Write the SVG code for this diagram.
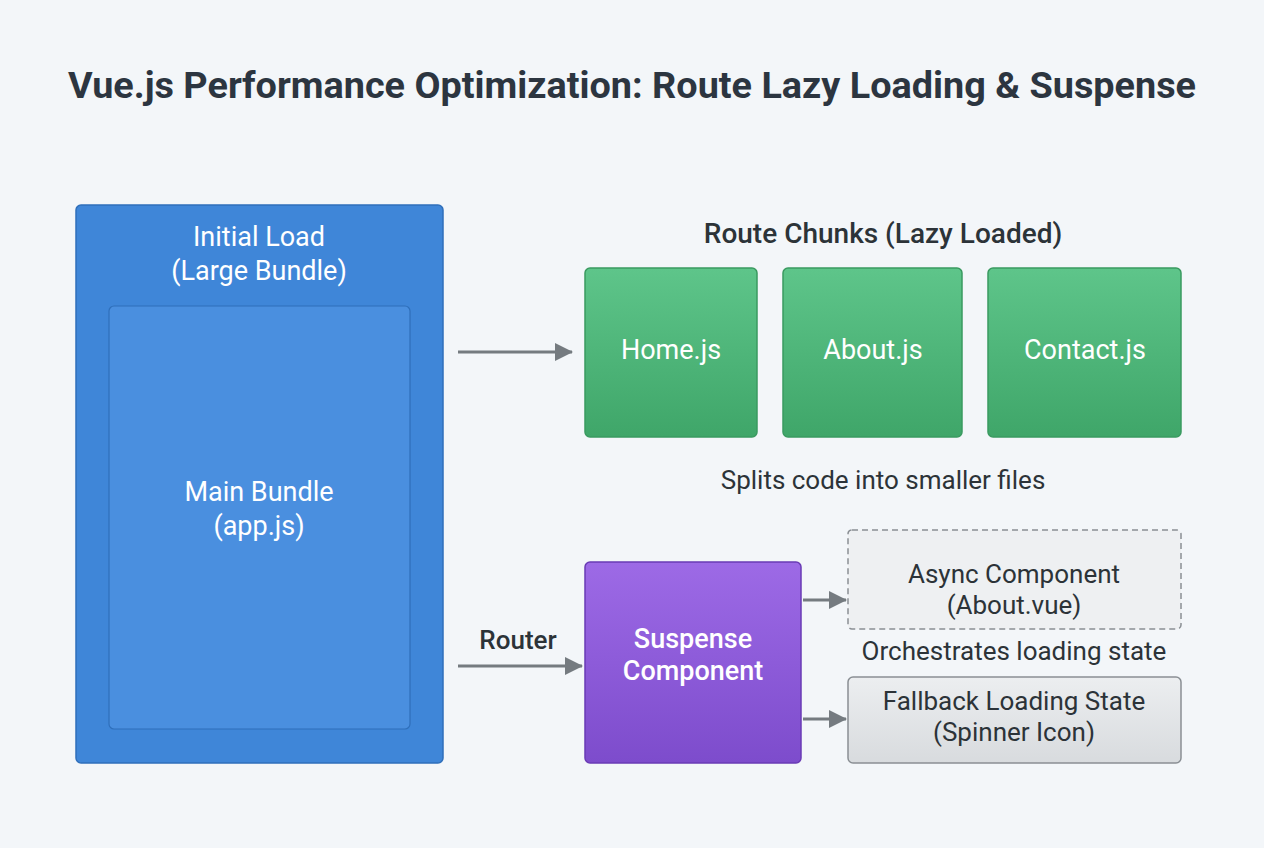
<svg xmlns="http://www.w3.org/2000/svg" width="1264" height="848" viewBox="0 0 1264 848">
<defs>
<marker id="ahb" markerWidth="18" markerHeight="18" refX="17" refY="9" orient="auto" markerUnits="userSpaceOnUse"><path d="M0,0 L18,9 L0,18 z" fill="#757b80"/></marker>
<linearGradient id="pg" x1="0" y1="0" x2="0" y2="1"><stop offset="0" stop-color="#9d6ae6"/><stop offset="1" stop-color="#7d4ccc"/></linearGradient>
<linearGradient id="gg" x1="0" y1="0" x2="0" y2="1"><stop offset="0" stop-color="#5ec58a"/><stop offset="1" stop-color="#3fa669"/></linearGradient>
<linearGradient id="fg" x1="0" y1="0" x2="0" y2="1"><stop offset="0" stop-color="#eceef0"/><stop offset="1" stop-color="#d8dbde"/></linearGradient>
</defs>
<style>
text{font-family:Roboto,"Liberation Sans",sans-serif;text-anchor:middle}
.w{fill:#ffffff;font-size:27px}
.d{fill:#2c3338;font-size:26px}
.g{fill:url(#gg);stroke:#3a9a60;stroke-width:1.5}
.c{stroke:#757b80;stroke-width:3;fill:none}
</style>
<rect width="1264" height="848" fill="#f3f6f9"/>
<text x="632" y="98" style="font-size:37.8px;font-weight:bold;fill:#2c3540">Vue.js Performance Optimization: Route Lazy Loading &amp; Suspense</text>
<g id="initial"><rect x="76" y="205" width="367" height="558" rx="5" fill="#3f86d8" stroke="#2f6fba" stroke-width="1.5"/>
<text class="w" x="259" y="246">Initial Load</text><text class="w" x="259" y="280">(Large Bundle)</text></g>
<g id="main"><rect x="109" y="306" width="301" height="423" rx="5" fill="#4a8fdf" stroke="#2f6fba" stroke-width="1.2"/>
<text class="w" x="259" y="501">Main Bundle</text><text class="w" x="259" y="535">(app.js)</text></g>
<text class="d" x="883" y="243" style="font-weight:500;font-size:28px">Route Chunks (Lazy Loaded)</text>
<g id="home"><rect class="g" x="585" y="268" width="172" height="169" rx="5"/><text class="w" x="671" y="359">Home.js</text></g>
<g id="about"><rect class="g" x="783" y="268" width="179" height="169" rx="5"/><text class="w" x="873" y="359">About.js</text></g>
<g id="contact"><rect class="g" x="988" y="268" width="193" height="169" rx="5"/><text class="w" x="1085" y="359">Contact.js</text></g>
<text class="d" x="883" y="489">Splits code into smaller files</text>
<g id="suspense"><rect x="585" y="562" width="216" height="201" rx="5" fill="url(#pg)" stroke="#6a3bb5" stroke-width="1.5"/>
<text class="w" x="693" y="648" style="font-weight:500">Suspense</text><text class="w" x="693" y="680" style="font-weight:500">Component</text></g>
<g id="async"><rect x="848" y="530" width="333" height="99" rx="4" fill="#eef0f2" stroke="#8a8f94" stroke-width="1.5" stroke-dasharray="6 4"/>
<text class="d" x="1014" y="583">Async Component</text><text class="d" x="1014" y="614">(About.vue)</text></g>
<text class="d" x="1014" y="660">Orchestrates loading state</text>
<g id="fallback"><rect x="848" y="677" width="333" height="86" rx="5" fill="url(#fg)" stroke="#8a8f94" stroke-width="1.5"/>
<text class="d" x="1014" y="710">Fallback Loading State</text><text class="d" x="1014" y="741">(Spinner Icon)</text></g>
<g id="connectors">
<line class="c" x1="458" y1="352" x2="572" y2="352" marker-end="url(#ahb)"/>
<line class="c" x1="458" y1="666" x2="582" y2="666" marker-end="url(#ahb)"/>
<text class="d" x="518" y="649" style="font-weight:500">Router</text>
<line class="c" x1="803" y1="600" x2="846" y2="600" marker-end="url(#ahb)"/>
<line class="c" x1="803" y1="719" x2="846" y2="719" marker-end="url(#ahb)"/>
</g>
</svg>
